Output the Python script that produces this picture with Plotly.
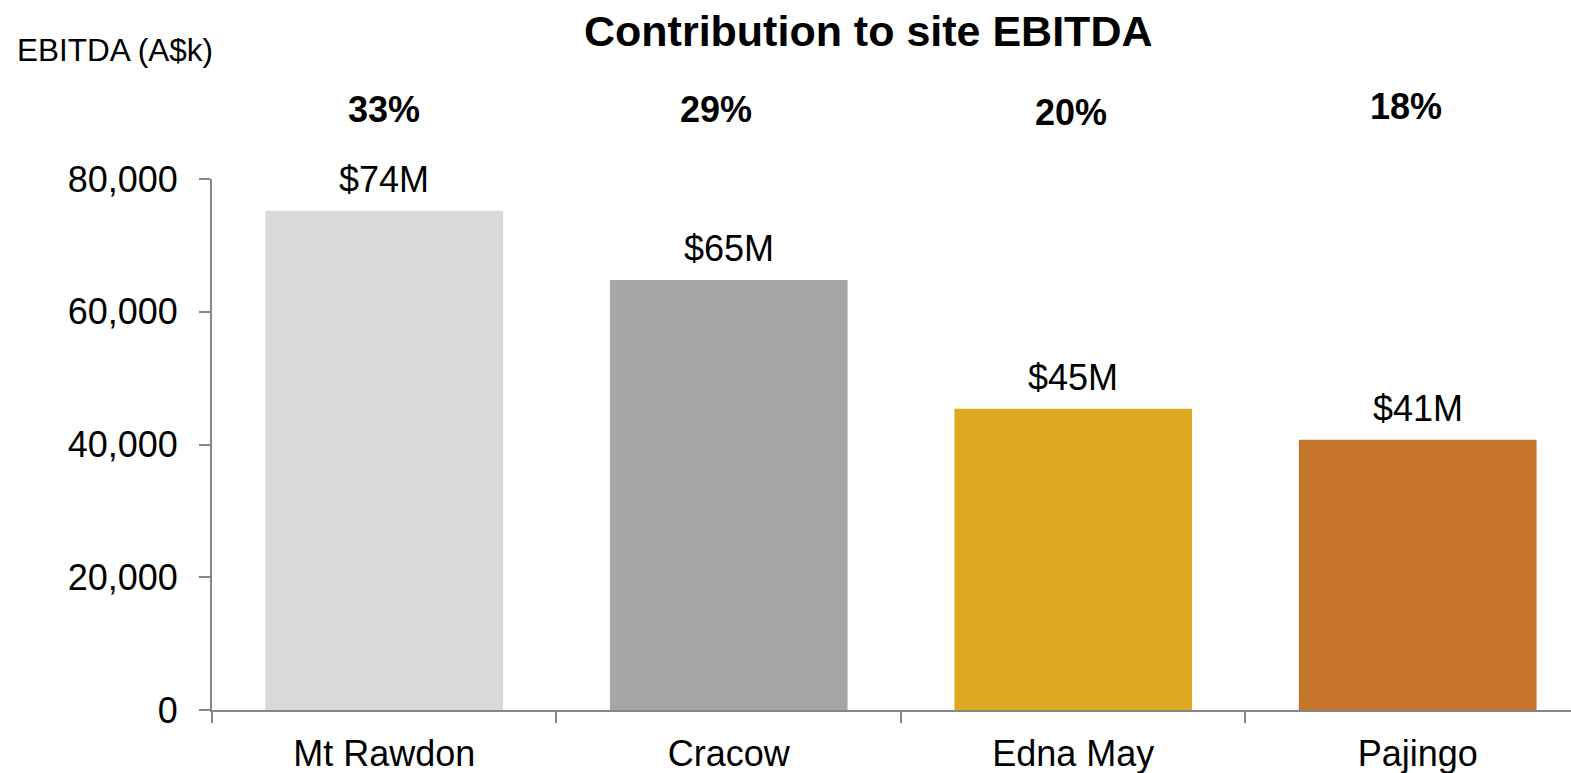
import plotly.graph_objects as go

categories = ["Mt Rawdon", "Cracow", "Edna May", "Pajingo"]
ebitda_values = [75200, 64800, 45400, 40700]
value_labels = ["$74M", "$65M", "$45M", "$41M"]
pct_labels = ["33%", "29%", "20%", "18%"]
bar_colors = ["#D9D9D9", "#A6A6A6", "#DCAA22", "#C4752B"]
y_ticks = [0, 20000, 40000, 60000, 80000]

W, H = 1571, 773
L, R, T, B = 212, 0, 179, 63
FONT = "Liberation Sans, Arial, sans-serif"
AX = "#868686"

def px_to_paper_x(px):
    return (px - L) / (W - L - R)

def px_to_paper_y(py):
    return (H - B - py) / (H - T - B)

fig = go.Figure()
fig.add_trace(go.Bar(
    x=categories, y=ebitda_values,
    marker=dict(color=bar_colors, line=dict(width=0)),
    showlegend=False, hoverinfo="skip",
))

annotations = []
for c, v, lab in zip(categories, ebitda_values, value_labels):
    annotations.append(dict(
        x=c, y=v, xref="x", yref="y", text=lab, showarrow=False,
        yanchor="middle", yshift=31,
        font=dict(family=FONT, size=36, color="#000000"),
    ))

pct_xshift = [0, -13, -2, -12]
pct_ypx = [110, 110, 112, 107]
for c, p, dx, ypx in zip(categories, pct_labels, pct_xshift, pct_ypx):
    annotations.append(dict(
        x=c, y=px_to_paper_y(ypx), xref="x", yref="paper", text="<b>" + p + "</b>",
        showarrow=False, xshift=dx, yanchor="middle",
        font=dict(family=FONT, size=36, color="#000000"),
    ))

annotations.append(dict(
    x=px_to_paper_x(868), y=px_to_paper_y(31), xref="paper", yref="paper",
    text="<b>Contribution to site EBITDA</b>", showarrow=False,
    xanchor="center", yanchor="middle",
    font=dict(family=FONT, size=43, color="#000000"),
))
annotations.append(dict(
    x=px_to_paper_x(15), y=px_to_paper_y(50), xref="paper", yref="paper",
    text="EBITDA (A$k)", showarrow=False, xanchor="left", yanchor="middle",
    font=dict(family=FONT, size=31.5, color="#000000"),
))

fig.update_layout(
    width=W, height=H,
    margin=dict(l=L, r=R, t=T, b=B, pad=0),
    paper_bgcolor="white", plot_bgcolor="white",
    bargap=0.31,
    annotations=annotations,
    font=dict(family=FONT, color="#000000"),
)
fig.update_xaxes(
    type="category", range=[-0.5, 3.445],
    showline=True, linecolor=AX, linewidth=2,
    ticks="outside", tickson="boundaries", ticklen=11, tickcolor=AX, tickwidth=2,
    showgrid=False, zeroline=False,
    tickfont=dict(family=FONT, size=36, color="#000000"),
    ticklabelstandoff=11,
)
fig.update_yaxes(
    range=[0, 80000], tickvals=y_ticks, tickformat=",d",
    showline=True, linecolor=AX, linewidth=2,
    ticks="outside", ticklen=11, tickcolor=AX, tickwidth=2,
    showgrid=False, zeroline=False,
    tickfont=dict(family=FONT, size=36, color="#000000"),
    ticklabelstandoff=14,
)

fig.write_html(
    "out.html",
    config={"displayModeBar": False},
    post_script="document.body.style.margin='0';document.body.style.overflow='hidden';",
)
